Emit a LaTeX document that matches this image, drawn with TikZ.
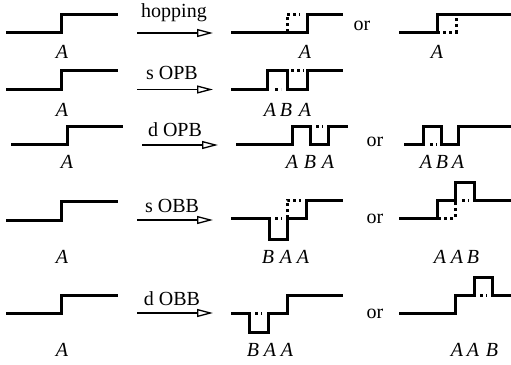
\documentclass[tikz,border=0pt]{standalone}
\usepackage{fontspec}
\setmainfont{Liberation Serif}
\usetikzlibrary{arrows.meta}
\begin{document}
\begin{tikzpicture}[x=1pt,y=-1pt,
  prof/.style={line width=3pt,line join=miter},
  ghost/.style={line width=3pt,dash pattern=on 3pt off 3pt},
  conv/.style={line width=1.3pt,-{Triangle[open,length=16pt,width=8pt,line width=1.3pt]}},
  site/.style={font=\fontsize{20}{23}\selectfont\itshape,inner sep=0pt},
  word/.style={font=\fontsize{20}{23}\selectfont,inner sep=0pt}]
\useasboundingbox (0,0) rectangle (511,364);

% ---- hopping
\draw[prof] (6,32) -- (61,32) -- (61,14) -- (118,14);
\node[site] (a1) at (62,52) {A};
\coordinate (h0) at (137,33); \coordinate (h1) at (213,33);
\draw[conv] (h0) -- (h1);
\node[word] (t1) at (174,13) {hopping};
\draw[prof] (231,32) -- (307,32) -- (307,14) -- (343,14);
\draw[ghost] (287,32) -- (287,14) -- (300,14);
\node[site] (a1r) at (305,52) {A};
\node[word] (or1) at (362,26) {or};
\draw[prof] (399,32) -- (437,32) -- (437,14) -- (511,14);
\draw[ghost] (437,32) -- (456,32) -- (456,14);
\node[site] (a1s) at (437,52) {A};

% ---- s OPB
\draw[prof] (6,89) -- (61,89) -- (61,70) -- (118,70);
\node[site] (a2) at (62,110) {A};
\coordinate (p0) at (137,89.5); \coordinate (p1) at (213,89.5);
\draw[conv] (p0) -- (p1);
\node[word] (t2) at (172,73) {s OPB};
\draw[prof] (231,89) -- (267,89) -- (267,70) -- (287,70) -- (287,89) -- (307,89) -- (307,70) -- (343,70);
\draw[ghost] (275,89) -- (281,89);
\draw[ghost] (291,70) -- (304,70);
\node[site] (a2a) at (270,110) {A};
\node[site] (a2b) at (286,110) {B};
\node[site] (a2c) at (305,110) {A};

% ---- d OPB
\draw[prof] (11,144) -- (67,144) -- (67,126) -- (123,126);
\node[site] (a3) at (67,162) {A};
\coordinate (q0) at (142,145); \coordinate (q1) at (218,145);
\draw[conv] (q0) -- (q1);
\node[word] (t3) at (175,130) {d OPB};
\draw[prof] (236,144) -- (292,144) -- (292,126) -- (310,126) -- (310,144) -- (328,144) -- (328,126) -- (348,126);
\draw[ghost] (316,126) -- (323,126);
\node[site] (a3a) at (292,162) {A};
\node[site] (a3b) at (310,162) {B};
\node[site] (a3c) at (328,162) {A};
\node[word] (or3) at (375,142) {or};
\draw[prof] (404,144) -- (423,144) -- (423,126) -- (441,126) -- (441,144) -- (458,144) -- (458,126) -- (511,126);
\draw[ghost] (430,144) -- (437,144);
\node[site] (a3d) at (426,162) {A};
\node[site] (a3e) at (442,162) {B};
\node[site] (a3f) at (458,162) {A};

% ---- s OBB
\draw[prof] (6,220) -- (61,220) -- (61,201) -- (118,201);
\node[site] (a4) at (62,257) {A};
\coordinate (r0) at (137,220); \coordinate (r1) at (213,220);
\draw[conv] (r0) -- (r1);
\node[word] (t4) at (172,206) {s OBB};
\draw[prof] (231,218) -- (269,218) -- (269,239) -- (287,239) -- (287,218) -- (306,218) -- (306,200) -- (343,200);
\draw[ghost] (275,218) -- (282,218);
\draw[ghost] (287,218) -- (287,200) -- (301,200);
\node[site] (a4a) at (268,257) {B};
\node[site] (a4b) at (286,257) {A};
\node[site] (a4c) at (303,257) {A};
\node[word] (or4) at (375,219) {or};
\draw[prof] (399,218) -- (437,218) -- (437,200) -- (455,200) -- (455,182) -- (474,182) -- (474,200) -- (511,200);
\draw[ghost] (438,218) -- (455,218) -- (455,201);
\draw[ghost] (462,200) -- (469,200);
\node[site] (a4d) at (440,257) {A};
\node[site] (a4e) at (457,257) {A};
\node[site] (a4f) at (473,257) {B};

% ---- d OBB
\draw[prof] (6,313) -- (61,313) -- (61,295) -- (118,295);
\node[site] (a5) at (62,350) {A};
\coordinate (s0) at (137,313); \coordinate (s1) at (213,313);
\draw[conv] (s0) -- (s1);
\node[word] (t5) at (172,299) {d OBB};
\draw[prof] (231,313) -- (249,313) -- (249,332) -- (268,332) -- (268,313) -- (287,313) -- (287,295) -- (343,295);
\draw[ghost] (255,313) -- (262,313);
\node[site] (a5a) at (253,350) {B};
\node[site] (a5b) at (270,350) {A};
\node[site] (a5c) at (287,350) {A};
\node[word] (or5) at (375,314) {or};
\draw[prof] (399,313) -- (455,313) -- (455,295) -- (474,295) -- (474,277) -- (492,277) -- (492,295) -- (511,295);
\draw[ghost] (480,295) -- (487,295);
\node[site] (a5d) at (457,350) {A};
\node[site] (a5e) at (473,350) {A};
\node[site] (a5f) at (492,350) {B};
\end{tikzpicture}
\end{document}
